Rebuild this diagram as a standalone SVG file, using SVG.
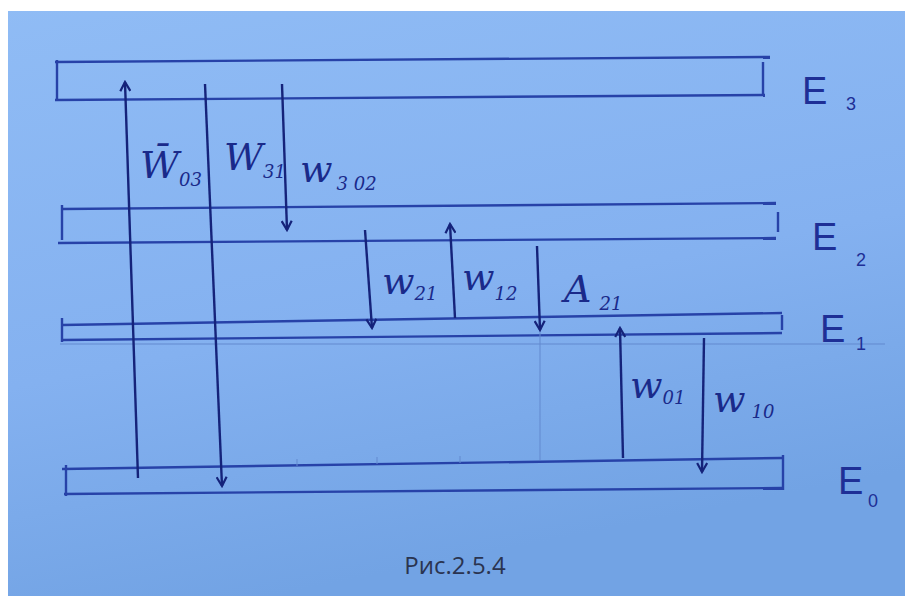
<svg xmlns="http://www.w3.org/2000/svg" width="905" height="596" viewBox="0 0 905 596">
<defs>
<linearGradient id="bg" x1="0" y1="0" x2="0.3" y2="1">
<stop offset="0" stop-color="#90bcf5"/>
<stop offset="0.6" stop-color="#84b1f0"/>
<stop offset="1" stop-color="#72a3e4"/>
</linearGradient>
<marker id="ah" viewBox="0 0 12 12" refX="10" refY="6" markerWidth="12" markerHeight="12" markerUnits="userSpaceOnUse" orient="auto">
<path d="M1,1 L10,6 L1,11" fill="none" stroke="#15237a" stroke-width="2.2"/>
</marker>
<style>
.lvl{stroke:#2742a8;stroke-width:2.4;fill:none}
.tk{stroke:#2742a8;stroke-width:2.4;fill:none}
.faint{stroke:#6389cf;stroke-width:1;fill:none}
.arr{stroke:#15237a;stroke-width:2.4;fill:none;marker-end:url(#ah)}
.lab{font-family:"DejaVu Serif","Liberation Serif",serif;font-style:italic;fill:#1a2a8a;font-size:38px}
.sub{font-size:18px}
.E{font-family:"Liberation Sans",sans-serif;font-size:38px;fill:#1e2f96}
.Es{font-family:"Liberation Sans",sans-serif;font-size:18px;fill:#1e2f96}
.cap{font-family:"Open Sans","Liberation Sans",sans-serif;font-size:24px;fill:#2a3450}
</style>
</defs>
<rect width="905" height="596" fill="url(#bg)"/>
<rect x="0" y="0" width="905" height="11" fill="#ffffff"/>
<rect x="0" y="0" width="8" height="596" fill="#ffffff"/>

<g id="level-E3">
<path class="lvl" d="M55,62 L770,57"/>
<path class="lvl" d="M55,100 L765,95"/>
<path class="tk" d="M57,60 L57,100"/>
<path class="tk" d="M763,62 L763,96"/>
<text class="E" x="802" y="104">E</text><text class="Es" x="846" y="110">3</text>
</g>
<g id="level-E2">
<path class="lvl" d="M62,209 L776,203"/>
<path class="lvl" d="M58,243 L776,238"/>
<path class="tk" d="M62,205 L62,240"/>
<path class="tk" d="M778,212 L778,232"/>
<text class="E" x="812" y="250">E</text><text class="Es" x="856" y="266">2</text>
</g>
<g id="level-E1">
<path class="lvl" d="M62,325 L782,313"/>
<path class="lvl" d="M62,340 L782,333"/>
<path class="tk" d="M62,318 L62,342"/>
<path class="tk" d="M782,315 L782,330"/>
<path class="faint" d="M60,344 L885,344"/>
<text class="E" x="820" y="342">E</text><text class="Es" x="856" y="350">1</text>
</g>
<g id="level-E0">
<path class="lvl" d="M62,469 L782,458"/>
<path class="lvl" d="M64,494 L782,488"/>
<path class="tk" d="M66,465 L66,496"/>
<path class="tk" d="M783,455 L783,490"/>
<path class="faint" d="M297,466 L297,459 M377,464 L377,457 M460,463 L460,456 M540,330 L540,460"/>
<text class="E" x="838" y="494">E</text><text class="Es" x="868" y="507">0</text>
</g>

<g id="connectors">
<path class="arr" d="M138,478 L125,82"/>
<path class="arr" d="M205,84 L222,486"/>
<path class="arr" d="M282,84 L287,230"/>
<path class="arr" d="M365,230 L372,328"/>
<path class="arr" d="M455,318 L450,224"/>
<path class="arr" d="M537,246 L540,330"/>
<path class="arr" d="M623,458 L620,328"/>
<path class="arr" d="M704,338 L702,472"/>
</g>

<g id="labels">
<text class="lab" x="140" y="178">W̄<tspan class="sub" dy="8">03</tspan></text>
<text class="lab" x="224" y="170">W<tspan class="sub" dy="8">31</tspan></text>
<text class="lab" x="300" y="182">w<tspan class="sub" dy="8" dx="4">3 02</tspan></text>
<text class="lab" x="382" y="294">w<tspan class="sub" dy="6">21</tspan></text>
<text class="lab" x="462" y="290">w<tspan class="sub" dy="10">12</tspan></text>
<text class="lab" x="564" y="302">A<tspan class="sub" dy="8" dx="8">21</tspan></text>
<text class="lab" x="630" y="398">w<tspan class="sub" dy="6">01</tspan></text>
<text class="lab" x="713" y="412">w<tspan class="sub" dy="6" dx="6">10</tspan></text>
</g>

<text class="cap" x="455" y="574" text-anchor="middle">Рис.2.5.4</text>
</svg>
